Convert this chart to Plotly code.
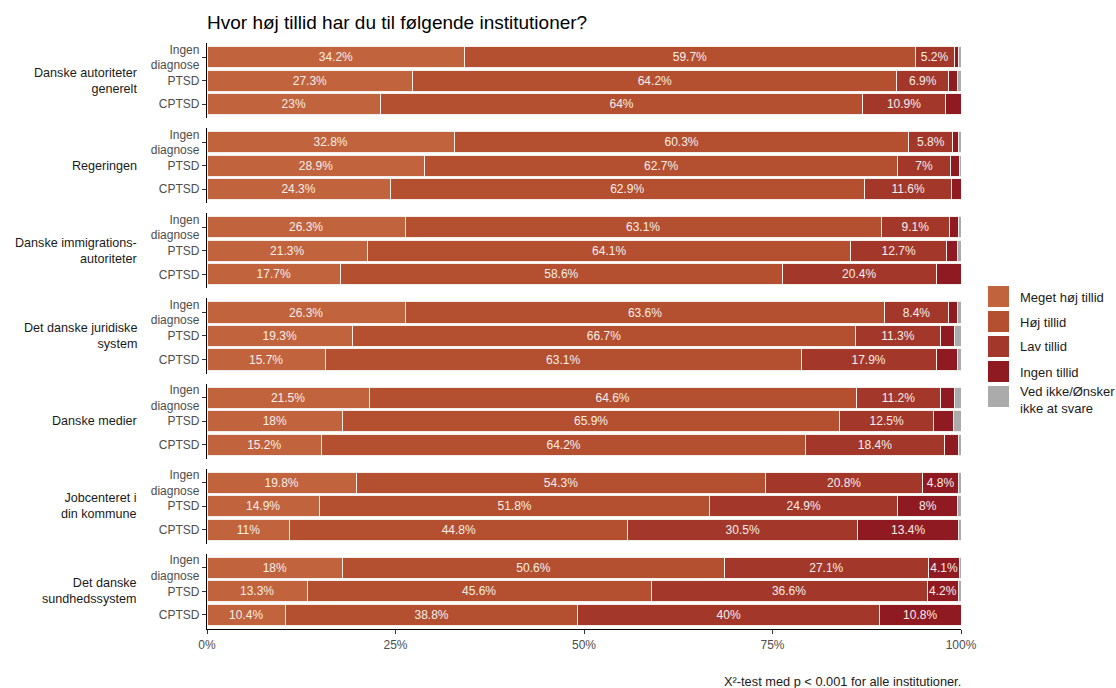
import plotly.graph_objects as go
from plotly.subplots import make_subplots

# ---------------- data ----------------
institutions = [
    "Danske autoriteter<br>generelt",
    "Regeringen",
    "Danske immigrations-<br>autoriteter",
    "Det danske juridiske<br>system",
    "Danske medier",
    "Jobcenteret i<br>din kommune",
    "Det danske<br>sundhedssystem",
]
groups = ["Ingen<br>diagnose", "PTSD", "CPTSD"]
levels = ["Meget høj tillid", "Høj tillid", "Lav tillid", "Ingen tillid",
          "Ved ikke/Ønsker<br>ikke at svare"]
level_colors = ["#C1633C", "#B4502F", "#A2372A", "#8F1A22", "#ABABAB"]

meget_hoej = [[34.2, 27.3, 23.0], [32.8, 28.9, 24.3], [26.3, 21.3, 17.7],
              [26.3, 19.3, 15.7], [21.5, 18.0, 15.2], [19.8, 14.9, 11.0],
              [18.0, 13.3, 10.4]]
hoej = [[59.7, 64.2, 64.0], [60.3, 62.7, 62.9], [63.1, 64.1, 58.6],
        [63.6, 66.7, 63.1], [64.6, 65.9, 64.2], [54.3, 51.8, 44.8],
        [50.6, 45.6, 38.8]]
lav = [[5.2, 6.9, 10.9], [5.8, 7.0, 11.6], [9.1, 12.7, 20.4],
       [8.4, 11.3, 17.9], [11.2, 12.5, 18.4], [20.8, 24.9, 30.5],
       [27.1, 36.6, 40.0]]
ingen = [[0.6, 1.1, 2.1], [0.8, 1.2, 1.2], [1.2, 1.4, 3.3],
         [1.2, 1.9, 2.9], [1.9, 2.6, 1.9], [4.8, 8.0, 13.4],
         [4.1, 4.2, 10.8]]
ved_ikke = [[0.3, 0.5, 0.0], [0.3, 0.2, 0.0], [0.3, 0.5, 0.0],
            [0.5, 0.8, 0.4], [0.8, 1.0, 0.3], [0.3, 0.4, 0.3],
            [0.2, 0.3, 0.0]]
series = [meget_hoej, hoej, lav, ingen, ved_ikke]

x_ticks = [0, 25, 50, 75, 100]
x_ticklabels = ["0%", "25%", "50%", "75%", "100%"]

title = "Hvor høj tillid har du til følgende institutioner?"
caption = "X²-test med p < 0.001 for alle institutioner."

# ---------------- layout helpers ----------------
W, H = 1116, 688
L, R, T, B = 207, 961, 43, 629  # plot area in pixels
FONT = "Liberation Sans, Arial, sans-serif"


def px_x(px):
    return (px - L) / (R - L)


def px_y(py):
    return (B - py) / (B - T)


n = len(institutions)
fig = make_subplots(rows=n, cols=1, shared_xaxes=True, vertical_spacing=0.01695)

for i in range(n):
    for k, lvl in enumerate(levels):
        vals = series[k][i]
        fig.add_trace(
            go.Bar(
                x=vals,
                y=groups,
                orientation="h",
                name=lvl,
                marker=dict(color=level_colors[k], line=dict(color="#F4EEEA", width=1)),
                width=0.9,
                text=[f"{v:g}%" if v >= 4 else "" for v in vals],
                textposition="inside",
                insidetextanchor="middle",
                textangle=0,
                constraintext="none",
                textfont=dict(color="#F7EEEA", size=12, family=FONT),
                showlegend=False,
                hoverinfo="x+y+name",
            ),
            row=i + 1, col=1,
        )
    fig.update_yaxes(
        type="category", categoryorder="array", categoryarray=groups,
        range=[2.6, -0.6], showline=True, linecolor="black", linewidth=1.3,
        ticks="outside", ticklen=4, tickcolor="#333333", tickwidth=1,
        tickfont=dict(size=12, color="#4D4D4D", family=FONT),
        showgrid=False, zeroline=False,
        row=i + 1, col=1,
    )
    is_bottom = i == n - 1
    fig.update_xaxes(
        range=[0, 100], showgrid=False, zeroline=False,
        showline=is_bottom, linecolor="black", linewidth=1.3,
        ticks="outside" if is_bottom else "", ticklen=4, tickcolor="#333333",
        tickvals=x_ticks, ticktext=x_ticklabels,
        showticklabels=is_bottom,
        tickfont=dict(size=12, color="#4D4D4D", family=FONT),
        row=i + 1, col=1,
    )
    yref = "y domain" if i == 0 else f"y{i + 1} domain"
    fig.add_annotation(
        text=institutions[i], xref="paper", yref=yref, x=px_x(139), y=0.5,
        xanchor="right", yanchor="middle", align="right", showarrow=False,
        font=dict(size=12.6, color="#1A1A1A", family=FONT),
    )

# manual ggplot-style legend
for k, lvl in enumerate(levels):
    top = 286 + 25 * k
    fig.add_shape(
        type="rect", xref="paper", yref="paper",
        x0=px_x(988), x1=px_x(1009), y0=px_y(top + 21), y1=px_y(top),
        fillcolor=level_colors[k], line=dict(width=0),
    )
    cy = top + 11 + (3 if "<br>" in lvl else 0)
    fig.add_annotation(
        text=lvl, xref="paper", yref="paper", x=px_x(1018), y=px_y(cy),
        xanchor="left", yanchor="middle", align="left", showarrow=False,
        font=dict(size=13, color="#1A1A1A", family=FONT),
    )

fig.add_annotation(
    text=caption, xref="paper", yref="paper", x=px_x(963), y=px_y(682),
    xanchor="right", yanchor="middle", align="right", showarrow=False,
    font=dict(size=12.8, color="#1A1A1A", family=FONT),
)

fig.update_layout(
    width=W, height=H,
    margin=dict(l=L, r=W - R, t=T, b=H - B),
    barmode="stack", bargap=0.1,
    plot_bgcolor="white", paper_bgcolor="white",
    title=dict(text=title, x=0, xanchor="left", xref="paper",
               y=1 - 22 / H, yanchor="middle",
               font=dict(size=19, color="#000000", family=FONT)),
    showlegend=False,
    font=dict(family=FONT),
)

fig.write_html("out.html", config={"displayModeBar": False},
               post_script="document.body.style.margin='0';document.body.style.padding='0';")
